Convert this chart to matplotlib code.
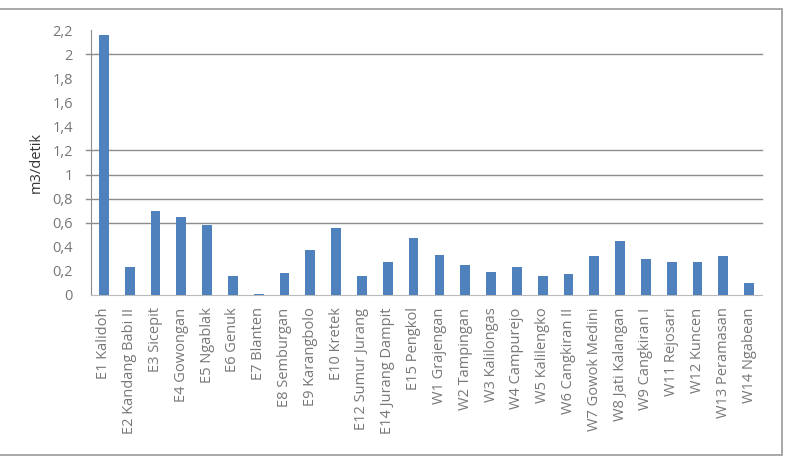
import matplotlib.pyplot as plt
from matplotlib.patches import Rectangle

stations = ["E1 Kalidoh", "E2 Kandang Babi II", "E3 Sicepit", "E4 Gowongan",
            "E5 Ngablak", "E6 Genuk", "E7 Blanten", "E8 Semburgan",
            "E9 Karangbolo", "E10 Kretek", "E12 Sumur Jurang", "E14 Jurang Dampit",
            "E15 Pengkol", "W1 Grajengan", "W2 Tampingan", "W3 Kalilongas",
            "W4 Campurejo", "W5 Kalilengko", "W6 Cangkiran II", "W7 Gowok Medini",
            "W8 Jati Kalangan", "W9 Cangkiran I", "W11 Rejosari", "W12 Kuncen",
            "W13 Peramasan", "W14 Ngabean"]
debit = [2.16, 0.235, 0.70, 0.645, 0.58, 0.158, 0.01, 0.18, 0.373, 0.556,
         0.158, 0.27, 0.47, 0.33, 0.246, 0.194, 0.232, 0.158, 0.172, 0.32,
         0.445, 0.296, 0.27, 0.27, 0.32, 0.097]
yticks = [0, 0.2, 0.4, 0.6, 0.8, 1, 1.2, 1.4, 1.6, 1.8, 2, 2.2]
ytick_labels = ["0", "0,2", "0,4", "0,6", "0,8", "1", "1,2", "1,4", "1,6", "1,8", "2", "2,2"]
grid_at = [0.6, 0.8, 1, 1.2, 2]

plt.rcParams['font.family'] = ['Open Sans', 'DejaVu Sans']

fig = plt.figure(figsize=(7.92, 4.65), dpi=100)
W, H = 792, 465
ax = fig.add_axes([91 / W, 1 - 295 / H, (762 - 91) / W, (295 - 30) / H])

x = range(len(stations))
ax.bar(x, debit, width=0.38, color="#4f81bd", zorder=3)

for g in grid_at:
    ax.axhline(g, xmin=-0.008, xmax=1, color="#8c8c8c", lw=1, zorder=1, clip_on=False)

ax.set_xlim(-0.5, len(stations) - 0.5)
ax.set_ylim(0, 2.2)
ax.set_yticks(yticks)
ax.set_yticklabels(ytick_labels, color="#777777", fontsize=10.5)
ax.tick_params(axis="y", length=0, pad=13)
ax.set_xticks(list(x))
ax.set_xticklabels(stations, rotation=90, color="#777777", fontsize=10.5)
ax.tick_params(axis="x", length=0, pad=9)
ax.set_ylabel("m3/detik", fontsize=10.5, color="#333333", labelpad=6)

for s in ["top", "right"]:
    ax.spines[s].set_visible(False)
ax.spines["left"].set_color("#8c8c8c")
ax.spines["bottom"].set_color("#bbbbbb")

fig.patches.append(Rectangle((-0.01, 1 - 455 / H), 782 / W + 0.01, (455 - 9) / H,
                             transform=fig.transFigure, fill=False,
                             edgecolor="#9a9a9a", lw=1.2))

fig.savefig("out.png", dpi=100)
